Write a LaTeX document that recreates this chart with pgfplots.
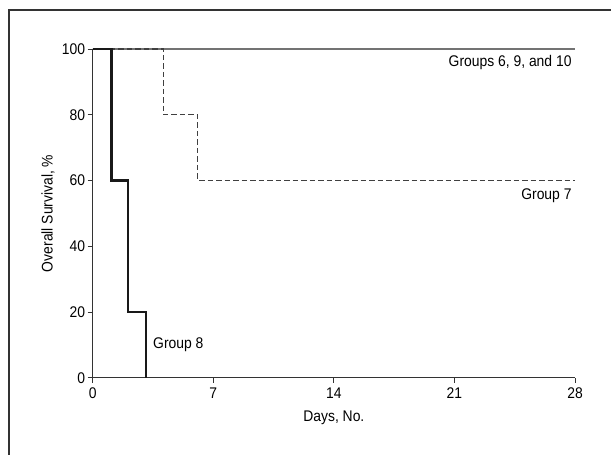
\documentclass[border=0pt]{standalone}
\usepackage{fontspec}
\setmainfont{Liberation Sans}[FakeStretch=0.9]
\usepackage{pgfplots}
\pgfplotsset{compat=1.18}
\newcommand{\lf}{\fontsize{15.5}{17}\selectfont}
\begin{document}
\begin{tikzpicture}[x=1bp,y=1bp]
\path[use as bounding box] (-92.7,-77.3) rectangle (518.3,377.7);
\draw[line width=1.4bp, black!80] (-83.7,-80) -- (-83.7,367.7) -- (520,367.7);
\begin{axis}[at={(0,0)}, anchor=south west, scale only axis,
  width=482.3bp, height=328.7bp,
  xmin=0, xmax=28, ymin=0, ymax=100,
  axis x line=bottom, axis y line=left,
  axis line style={-, line width=1.2bp, black!80},
  xtick={0,7,14,21,28}, ytick={0,20,40,60,80,100},
  tick align=outside, major tick length=5bp,
  tick style={black!80, line width=0.9bp},
  tick label style={font=\lf},
  xticklabel style={yshift=-2bp},
  yticklabel style={xshift=1bp},
  /pgf/number format/assume math mode=true,
  xlabel={Days, No.}, ylabel={Overall Survival, \%},
  label style={font=\lf},
  xlabel style={at={(axis description cs:0.5,-0.1226)}, anchor=center},
  ylabel style={at={(axis description cs:-0.0927,0.5)}, anchor=center},
  clip=false,
]
\addplot[black!55, line width=1.3bp] coordinates {(0,100) (28,100)};
\addplot[black!75, line width=1.4bp, dash pattern=on 5.5bp off 3bp, const plot]
  coordinates {(0,100) (4.1,80) (6.1,60) (28,60)};
\addplot[black!90, line width=2.4bp, const plot]
  coordinates {(0,100) (1.1,60) (2.05,20) (3.1,0)};
\node[anchor=east, inner sep=0pt, font=\lf] at (axis cs:27.81,95.8) {Groups 6, 9, and 10};
\node[anchor=east, inner sep=0pt, font=\lf] at (axis cs:27.81,55.5) {Group 7};
\node[anchor=west, inner sep=0pt, font=\lf] at (axis cs:3.5,10) {Group 8};
\end{axis}
\end{tikzpicture}
\end{document}
